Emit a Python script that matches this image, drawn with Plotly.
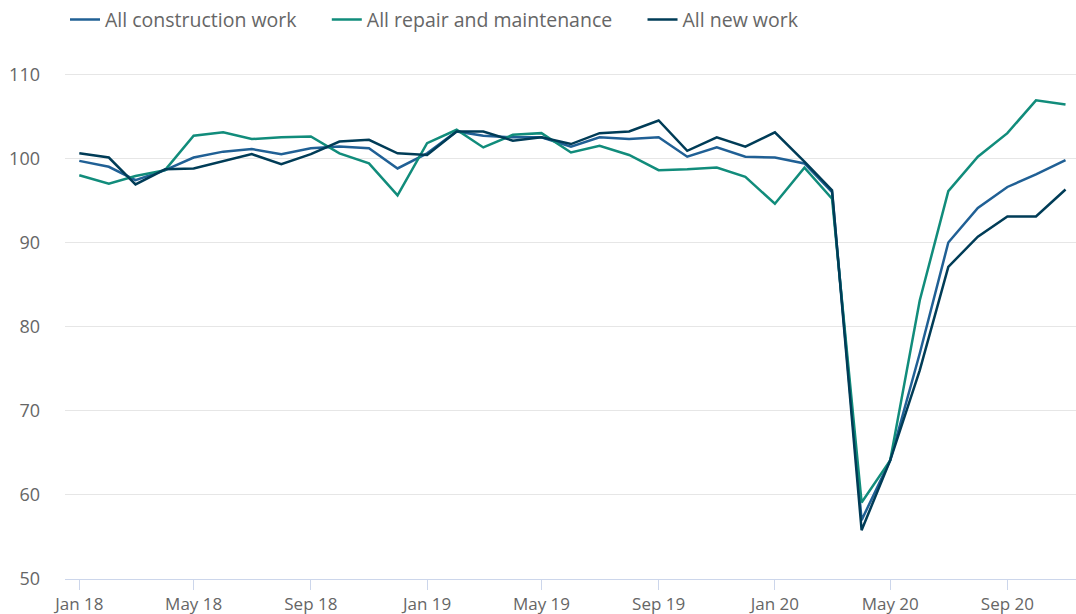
"""
Construction output index chart: all work, repair and maintenance, new work.
"""

import pandas as pd
import plotly.graph_objects as go

# Monthly index values, Jan 2018 to Nov 2020
months = pd.date_range("2018-01-01", periods=35, freq="MS")

all_construction = [
    99.7, 99.0, 97.4, 98.6, 100.1, 100.8, 101.1, 100.5, 101.2, 101.4,
    101.2, 98.8, 100.6, 103.2, 102.7, 102.5, 102.5, 101.4, 102.5, 102.3,
    102.5, 100.2, 101.3, 100.2, 100.1, 99.4, 96.0, 57.0, 64.1, 76.8,
    90.0, 94.1, 96.6, 98.1, 99.8,
]
repair_maintenance = [
    98.0, 97.0, 97.9, 98.6, 102.7, 103.1, 102.3, 102.5, 102.6, 100.6,
    99.4, 95.6, 101.8, 103.4, 101.3, 102.8, 103.0, 100.7, 101.5, 100.4,
    98.6, 98.7, 98.9, 97.8, 94.6, 98.9, 95.2, 59.1, 64.1, 83.1,
    96.1, 100.2, 103.0, 106.9, 106.4,
]
new_work = [
    100.6, 100.1, 96.9, 98.7, 98.8, 99.7, 100.5, 99.3, 100.5, 102.0,
    102.2, 100.6, 100.4, 103.2, 103.2, 102.1, 102.5, 101.7, 103.0, 103.2,
    104.5, 100.9, 102.5, 101.4, 103.1, 99.6, 96.2, 55.8, 64.1, 74.8,
    87.1, 90.7, 93.1, 93.1, 96.3,
]

series = [
    ("All construction work", all_construction, "#206095"),
    ("All repair and maintenance", repair_maintenance, "#118c7b"),
    ("All new work", new_work, "#003c57"),
]

y_ticks = [50, 60, 70, 80, 90, 100, 110]

# non-breaking spaces widen the gap between legend entries
PAD = "\u00a0" * 5

fig = go.Figure()
for i, (name, values, colour) in enumerate(series):
    label = name + PAD if i < len(series) - 1 else name
    fig.add_trace(
        go.Scatter(
            x=months,
            y=values,
            name=label,
            mode="lines",
            line=dict(color=colour, width=2.5),
        )
    )

fig.update_layout(
    width=1076,
    height=614,
    margin=dict(l=65, r=0, t=49, b=35),
    plot_bgcolor="white",
    paper_bgcolor="white",
    font=dict(family="Open Sans", size=18, color="#666666"),
    legend=dict(
        orientation="h",
        x=0.0,
        xanchor="left",
        y=1.055,
        yanchor="middle",
        font=dict(size=19.5, color="#666666"),
        itemwidth=30,
        bgcolor="rgba(0,0,0,0)",
    ),
    showlegend=True,
)

fig.update_xaxes(
    range=["2017-12-17", "2020-11-12"],
    tick0="2018-01-01",
    dtick="M4",
    tickformat="%b %y",
    ticks="outside",
    ticklen=10,
    tickcolor="#ccd6eb",
    showline=True,
    linecolor="#ccd6eb",
    linewidth=1,
    showgrid=False,
    zeroline=False,
    tickfont=dict(size=17, color="#666666"),
)

fig.update_yaxes(
    range=[50, 113],
    tickvals=y_ticks,
    showgrid=True,
    gridcolor="#e6e6e6",
    gridwidth=1,
    showline=False,
    zeroline=False,
    ticks="",
    ticklabelstandoff=24,
    tickfont=dict(size=18, color="#666666"),
)

fig.write_html(
    "out.html",
    config={"displayModeBar": False},
    post_script="document.body.style.margin='0';",
)
